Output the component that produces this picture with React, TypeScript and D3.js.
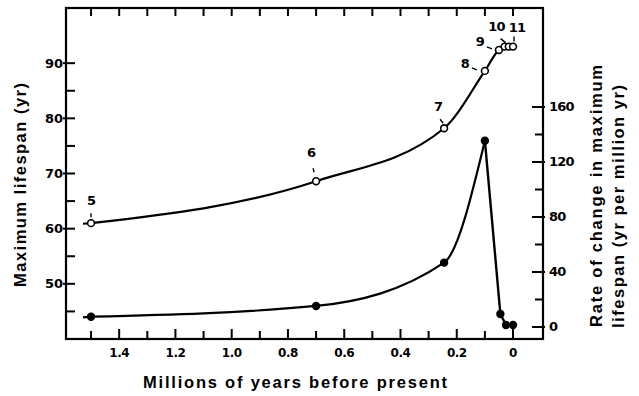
import * as d3 from "d3";

// upper series: maximum lifespan (left axis), open circles
const upYears = [1.5, 0.7, 0.245, 0.1, 0.05, 0.03, 0.015, 0];
const upLifespan = [61, 68.6, 78.2, 88.6, 92.4, 93, 93, 93];
const upLabels = ["5", "6", "7", "8", "9", "10", "", "11"];

// lower series: rate of change (right axis), filled dots
const lowYears = [1.5, 0.7, 0.245, 0.1, 0.045, 0.025, 0];
const lowRate = [7.5, 15.3, 46.8, 135.5, 9.5, 1.5, 1.5];

const xTicks = [1.5, 1.4, 1.3, 1.2, 1.1, 1.0, 0.9, 0.8, 0.7, 0.6, 0.5, 0.4, 0.3, 0.2, 0.1, 0];
const xTickLabels = ["1.4", "1.2", "1.0", "0.8", "0.6", "0.4", "0.2", "0"];
const leftTicks = [45, 50, 55, 60, 65, 70, 75, 80, 85, 90];
const leftTickLabels = ["50", "60", "70", "80", "90"];
const rightTicks = [0, 20, 40, 60, 80, 100, 120, 140, 160];
const rightTickLabels = ["0", "40", "80", "120", "160"];

// label placement (pixel offsets from point: label dx,dy ; leader from -> to)
const labelPos = [
  { dx: 0, dy: -18, l: [0, -10, 0, -6] },
  { dx: -5, dy: -24, l: [-3, -13, -2, -9] },
  { dx: -6, dy: -17, l: [-4, -9, -1, -5] },
  { dx: -20, dy: -3, l: [-13, -3, -8, -1] },
  { dx: -19, dy: -4, l: [-12, -3, -7, -1] },
  { dx: -8, dy: -16, l: [-4, -8, 1, -4] },
  { dx: 0, dy: 0, l: [0, 0, 0, 0] },
  { dx: 4, dy: -15, l: [1, -10, 1, -5] },
];

const W = 639;
const H = 396;
const L = 66, R = 543, T = 8, B = 339;
const TICK_FONT = "'DejaVu Sans', sans-serif";
const TITLE_FONT = "'Liberation Sans', Arial, sans-serif";

export default function App() {
  const x = d3.scaleLinear().domain([1.589, -0.103]).range([L, R - 1]);
  const yL = d3.scaleLinear().domain([40, 100]).range([B, T]);
  const yR = d3.scaleLinear().domain([-8.73, 232]).range([B, T]);

  const upPts: [number, number][] = upYears.map((d, i) => [x(d), yL(upLifespan[i])]);
  const lowPts: [number, number][] = lowYears.map((d, i) => [x(d), yR(lowRate[i])]);

  const upLine = d3.line().curve(d3.curveMonotoneX);
  const curvedPart = lowPts.slice(0, 4);
  const straightPart = lowPts.slice(3);
  const lowCurve = d3.line().curve(d3.curveMonotoneX);
  const lowStraight = d3.line();

  // short lead-in to the left of the first point, like the original drawing
  const lead = (p: [number, number]) => `M${p[0] - 8},${p[1] + 0.6}L${p[0]},${p[1]}`;

  return (
    <svg
      width={W}
      height={H}
      style={{ position: "absolute", left: 0, top: 0, background: "#fff" }}
    >
      <rect x={0} y={0} width={W} height={H} fill="#fff" />

      {/* frame */}
      <rect x={L} y={T} width={R - L} height={B - T} fill="none" stroke="#000" strokeWidth={2.2} />

      {/* bottom and top ticks */}
      {xTicks.map((t, i) => {
        const major = xTickLabels.includes(String(t === 1 ? "1.0" : t)) || false;
        return (
          <g key={"xt" + i}>
            <line x1={x(t)} x2={x(t)} y1={B} y2={B - (major ? 10 : 8)} stroke="#000" strokeWidth={2} />
            <line x1={x(t)} x2={x(t)} y1={T} y2={T + 8} stroke="#000" strokeWidth={2} />
          </g>
        );
      })}
      {xTickLabels.map((lab) => (
        <text
          key={"xl" + lab}
          x={x(+lab)}
          y={357}
          textAnchor="middle"
          fontFamily={TICK_FONT}
          fontWeight="bold"
          fontSize={12}
          letterSpacing={-0.5}
        >
          {lab}
        </text>
      ))}

      {/* left axis ticks */}
      {leftTicks.map((t) => {
        const major = leftTickLabels.includes(String(t));
        return (
          <line
            key={"lt" + t}
            x1={major ? L - 3 : L}
            x2={L + 9}
            y1={yL(t)}
            y2={yL(t)}
            stroke="#000"
            strokeWidth={2}
          />
        );
      })}
      {leftTickLabels.map((lab) => (
        <text
          key={"ll" + lab}
          x={L - 3}
          y={yL(+lab) + 4.5}
          textAnchor="end"
          fontFamily={TICK_FONT}
          fontWeight="bold"
          fontSize={13}
        >
          {lab}
        </text>
      ))}

      {/* right axis ticks */}
      {rightTicks.map((t) => {
        const major = rightTickLabels.includes(String(t));
        return (
          <line
            key={"rt" + t}
            x1={R - (major ? 11 : 8)}
            x2={major ? R + 2 : R}
            y1={yR(t)}
            y2={yR(t)}
            stroke="#000"
            strokeWidth={2}
          />
        );
      })}
      {rightTickLabels.map((lab) => (
        <text
          key={"rl" + lab}
          x={R + 6}
          y={yR(+lab) + 4.5}
          textAnchor="start"
          fontFamily={TICK_FONT}
          fontWeight="bold"
          fontSize={13}
          letterSpacing={-0.8}
        >
          {lab}
        </text>
      ))}

      {/* series lines */}
      <path d={lead(upPts[0]) + upLine(upPts)} fill="none" stroke="#000" strokeWidth={2.2} />
      <path d={lead(lowPts[0]) + lowCurve(curvedPart)} fill="none" stroke="#000" strokeWidth={2.2} />
      <path d={lowStraight(straightPart) ?? ""} fill="none" stroke="#000" strokeWidth={2.4} />

      {/* markers */}
      {upPts.map((p, i) => (
        <circle key={"uc" + i} cx={p[0]} cy={p[1]} r={3.4} fill="#fff" stroke="#000" strokeWidth={1.6} />
      ))}
      {lowPts.map((p, i) => (
        <circle key={"lc" + i} cx={p[0]} cy={p[1]} r={4.2} fill="#000" />
      ))}

      {/* point labels */}
      {upPts.map((p, i) => {
        if (!upLabels[i]) return null;
        const o = labelPos[i];
        return (
          <g key={"pl" + i}>
            <text
              x={p[0] + o.dx}
              y={p[1] + o.dy}
              textAnchor="middle"
              fontFamily={TICK_FONT}
              fontWeight="bold"
              fontSize={13}
              letterSpacing={-0.8}
            >
              {upLabels[i]}
            </text>
            <line
              x1={p[0] + o.l[0]}
              y1={p[1] + o.l[1]}
              x2={p[0] + o.l[2]}
              y2={p[1] + o.l[3]}
              stroke="#000"
              strokeWidth={1.4}
            />
          </g>
        );
      })}

      {/* axis titles */}
      <text
        x={295}
        y={388}
        textAnchor="middle"
        fontFamily={TITLE_FONT}
        fontWeight="bold"
        fontSize={16.5}
        textLength={304}
        lengthAdjust="spacing"
      >
        Millions of years before present
      </text>
      <text
        transform="translate(26,185) rotate(-90)"
        textAnchor="middle"
        fontFamily={TITLE_FONT}
        fontWeight="bold"
        fontSize={16.5}
        textLength={204}
        lengthAdjust="spacing"
      >
        Maximum lifespan  (yr)
      </text>
      <text
        transform="translate(602,327) rotate(-90)"
        textAnchor="start"
        fontFamily={TITLE_FONT}
        fontWeight="bold"
        fontSize={16.5}
        textLength={262}
        lengthAdjust="spacing"
      >
        Rate of change in maximum
      </text>
      <text
        transform="translate(624,328) rotate(-90)"
        textAnchor="start"
        fontFamily={TITLE_FONT}
        fontWeight="bold"
        fontSize={16.5}
        textLength={243}
        lengthAdjust="spacing"
      >
        lifespan (yr per million yr)
      </text>
    </svg>
  );
}
